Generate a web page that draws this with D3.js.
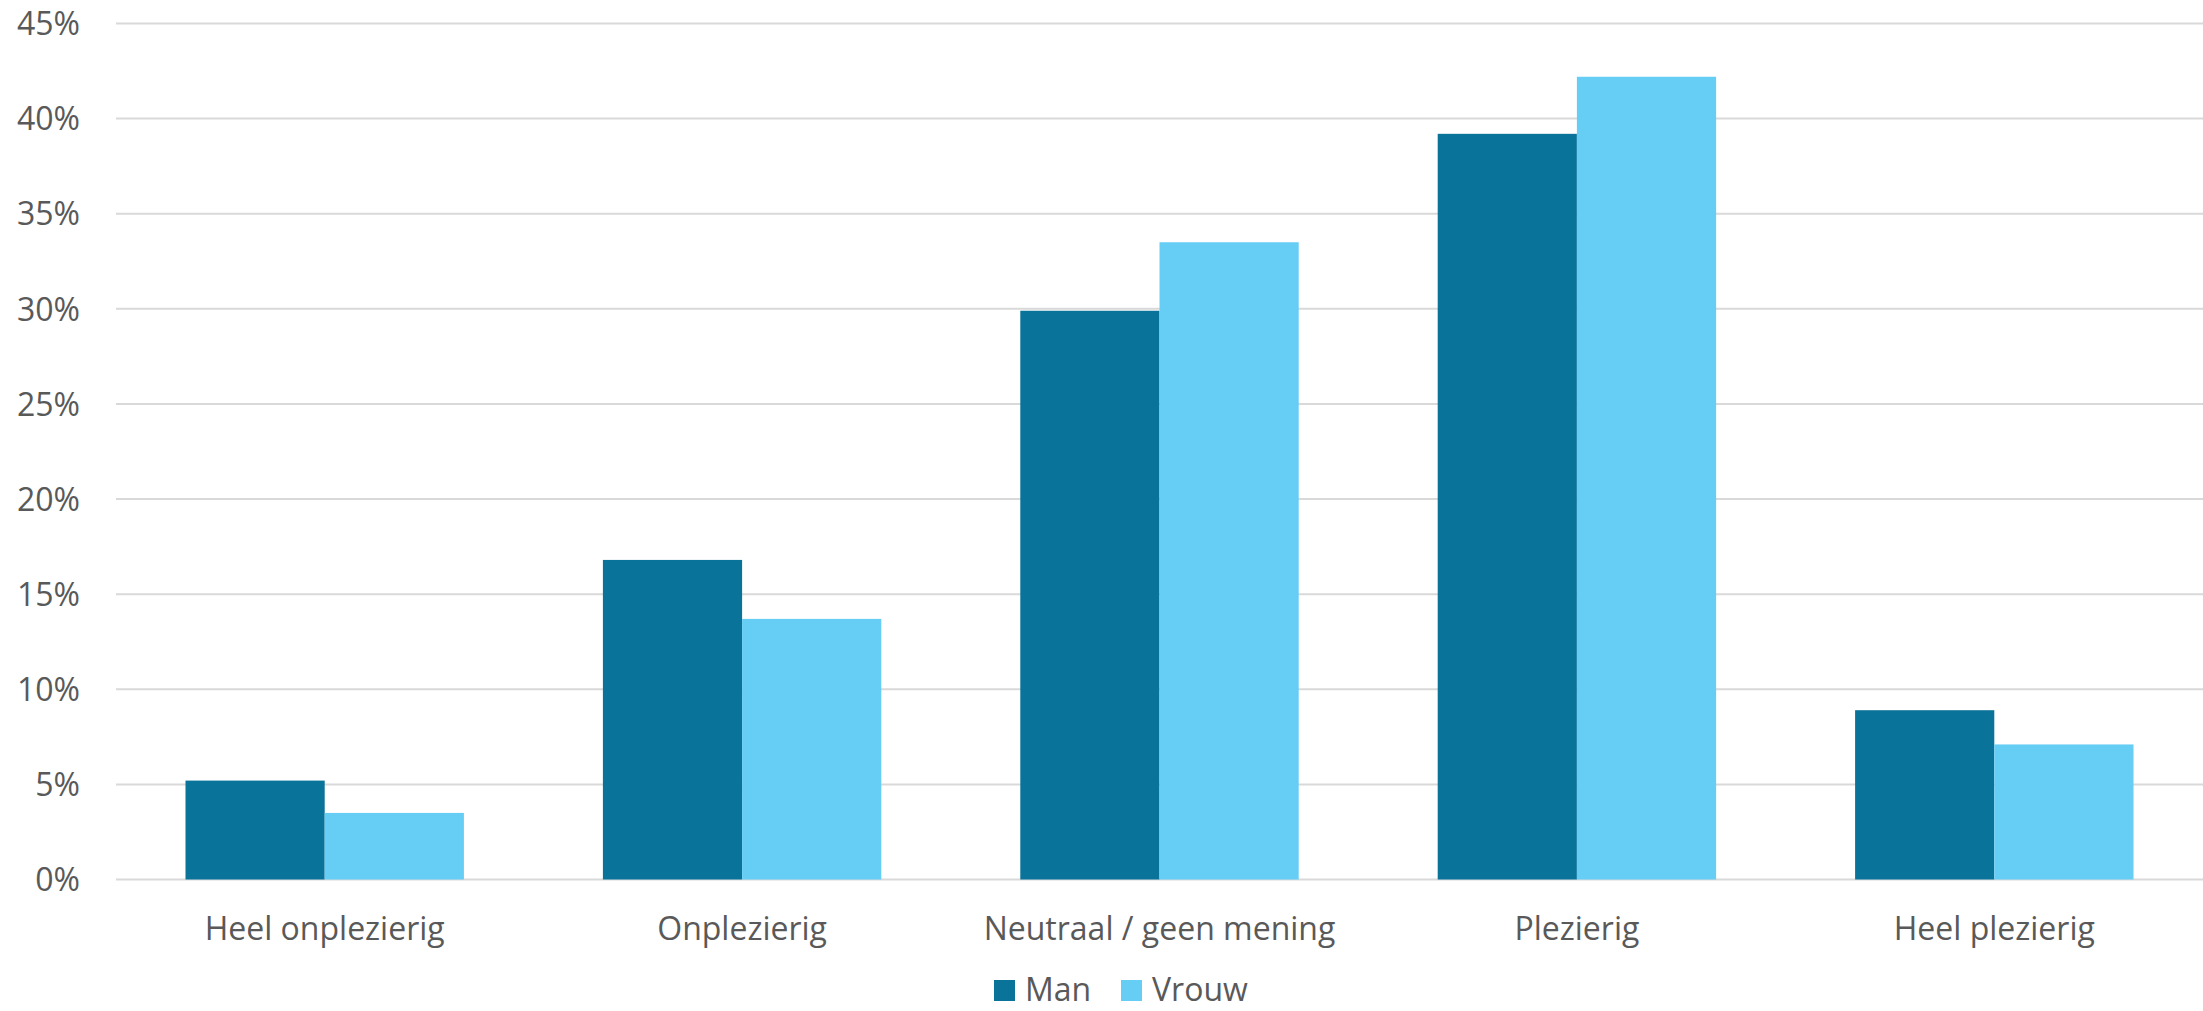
<!DOCTYPE html>
<html><head><meta charset="utf-8">
<script src="https://cdn.jsdelivr.net/npm/d3@7"></script>
<style>html,body{margin:0;padding:0;background:#fff;}svg{display:block;}</style>
</head><body>
<svg id="chart" width="2203" height="1011"></svg>
<script>
const categories = ["Heel onplezierig", "Onplezierig", "Neutraal / geen mening", "Plezierig", "Heel plezierig"];
const seriesNames = ["Man", "Vrouw"];
const man = [5.2, 16.8, 29.9, 39.2, 8.9];
const vrouw = [3.5, 13.7, 33.5, 42.2, 7.1];
const tickValues = [0, 5, 10, 15, 20, 25, 30, 35, 40, 45];
const colors = ["#0a7399", "#66cdf5"];

(function () {
const mLeft = 116, mRight = 2203, mTop = 23.5, mBottom = 879.5;
const svg = d3.select("#chart");
const font = "'Open Sans', sans-serif";
const textColor = "#595959";

const x = d3.scaleBand().domain(categories).range([mLeft, mRight]).paddingInner(0.333).paddingOuter(0.1665);
const x1 = d3.scaleBand().domain(seriesNames).range([0, x.bandwidth()]).padding(0);
const y = d3.scaleLinear().domain([0, 45]).range([mBottom, mTop]);

// gridlines
svg.append("g").selectAll("line").data(tickValues).join("line")
  .attr("x1", mLeft).attr("x2", mRight)
  .attr("y1", d => y(d)).attr("y2", d => y(d))
  .attr("stroke", "#d9d9d9").attr("stroke-width", 2);

// y axis labels
const yAxis = d3.axisLeft(y).tickValues(tickValues).tickFormat(d => d + "%").tickSize(0).tickPadding(0);
const yg = svg.append("g").attr("transform", `translate(80,0)`).call(yAxis);
yg.select(".domain").remove();
yg.selectAll("text").attr("font-family", font).attr("font-size", 32).attr("fill", textColor).attr("dy", "0.35em");

// bars
const data = categories.map((c, i) => ({cat: c, vals: [man[i], vrouw[i]]}));
const groups = svg.append("g").selectAll("g").data(data).join("g")
  .attr("transform", d => `translate(${x(d.cat)},0)`);
groups.selectAll("rect").data(d => d.vals.map((v, j) => ({name: seriesNames[j], v, j}))).join("rect")
  .attr("x", d => x1(d.name)).attr("width", x1.bandwidth())
  .attr("y", d => y(d.v)).attr("height", d => y(0) - y(d.v))
  .attr("fill", d => colors[d.j]);

// x axis labels
const xAxis = d3.axisBottom(x).tickSize(0).tickPadding(0);
const xg = svg.append("g").attr("transform", `translate(0,${mBottom})`).call(xAxis);
xg.select(".domain").remove();
xg.selectAll("text").attr("font-family", font).attr("font-size", 32).attr("fill", textColor)
  .attr("dy", null).attr("y", 60.5);

// legend
const legendX = [994, 1121];
const lg = svg.append("g");
seriesNames.forEach((n, i) => {
  lg.append("rect").attr("x", legendX[i]).attr("y", 980).attr("width", 21).attr("height", 21).attr("fill", colors[i]);
  lg.append("text").attr("x", legendX[i] + 31).attr("y", 1001).text(n)
    .attr("font-family", font).attr("font-size", 32).attr("fill", textColor);
});
})();
</script>
</body></html>
